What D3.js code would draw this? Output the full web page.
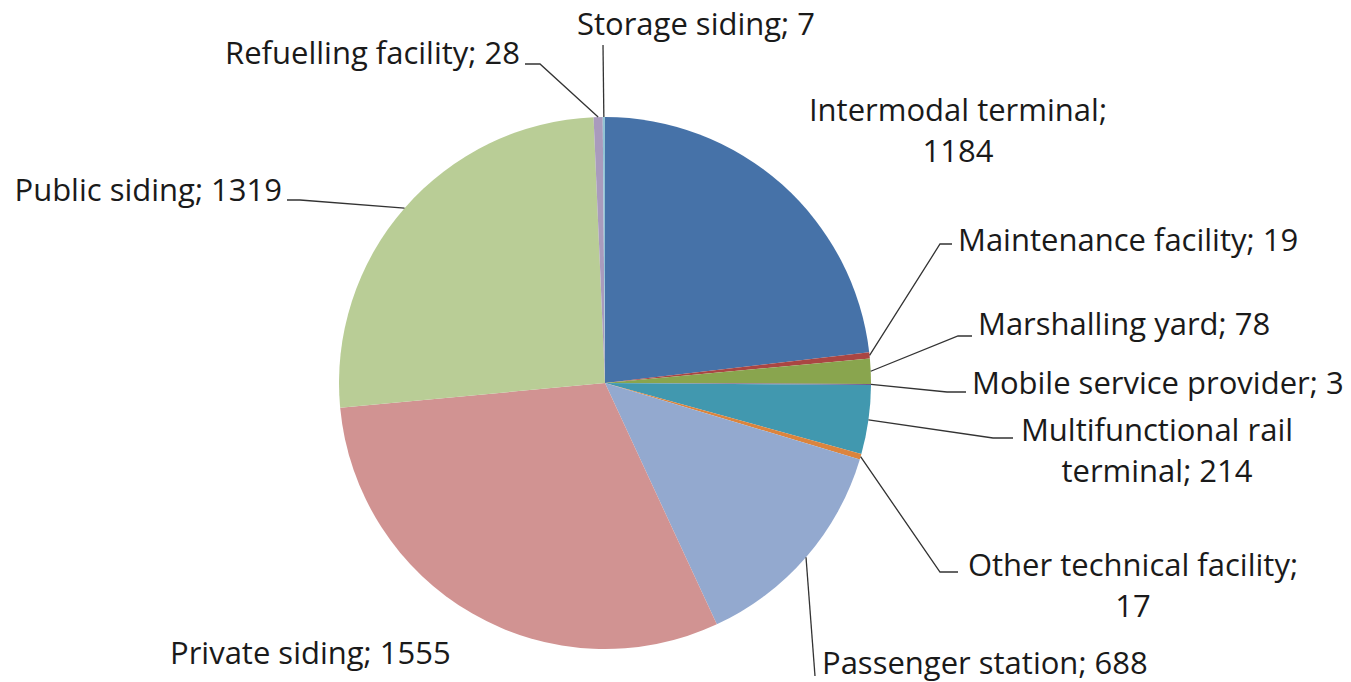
<!DOCTYPE html>
<html>
<head>
<meta charset="utf-8">
<script src="https://cdn.jsdelivr.net/npm/d3@7"></script>
<style>
  body { margin: 0; background: #fff; }
  text { font-family: 'Open Sans', sans-serif; font-size: 31px; fill: #1a1a1a; }
</style>
</head>
<body>
<svg width="1351" height="682"></svg>
<script>
const categories = [
    'Intermodal terminal', 'Maintenance facility', 'Marshalling yard',
    'Mobile service provider', 'Multifunctional rail terminal',
    'Other technical facility', 'Passenger station', 'Private siding',
    'Public siding', 'Refuelling facility', 'Storage siding'
]
const values = [1184, 19, 78, 3, 214, 17, 688, 1555, 1319, 28, 7]
const colors = ['#4672a8', '#aa4643', '#89a54e', '#71588f', '#4198af', '#db843d',
    '#93a9cf', '#d19392', '#b9cd96', '#a99bbd', '#92c3d4']

// label placement: x, y of first baseline, anchor, words on first line, knee of leader
const layout = [
    { x: 958, y: 121, anchor: 'middle', split: 2, knee: null },
    { x: 958, y: 251, anchor: 'start', split: 0, knee: [940, 244], end: 952 },
    { x: 978, y: 335, anchor: 'start', split: 0, knee: [958, 336], end: 972 },
    { x: 972, y: 394, anchor: 'start', split: 0, knee: [947, 392], end: 966 },
    { x: 1157, y: 441, anchor: 'middle', split: 2, knee: [993, 438], end: 1013 },
    { x: 1133, y: 576, anchor: 'middle', split: 3, knee: [940, 572], end: 958 },
    { x: 822, y: 674, anchor: 'start', split: 0, knee: [815, 676], end: 815 },
    { x: 170, y: 664, anchor: 'start', split: 0, knee: null },
    { x: 282, y: 201, anchor: 'end', split: 0, knee: [300, 200], end: 287 },
    { x: 520, y: 64, anchor: 'end', split: 0, knee: [540, 64], end: 525 },
    { x: 696, y: 35, anchor: 'middle', split: 0, knee: [603, 45], end: 603 }
]

const svg = d3.select('svg')
const cx = 605
const cy = 383
const radius = 266

const data = categories.map((c, i) => ({ name: c, value: values[i], i }))

const pie = d3.pie()
    .value(d => d.value)
    .sort(null)

const arc = d3.arc()
    .innerRadius(0)
    .outerRadius(radius)

const arcs = pie(data)

const g = svg.append('g')
    .attr('transform', `translate(${cx},${cy})`)

g.selectAll('path.slice')
    .data(arcs)
    .enter()
    .append('path')
    .attr('class', 'slice')
    .attr('d', arc)
    .attr('fill', d => colors[d.data.i])

// leader lines
arcs.forEach(d => {
    const l = layout[d.data.i]
    if (!l.knee) return
    const mid = (d.startAngle + d.endAngle) / 2
    const ex = cx + radius * Math.sin(mid)
    const ey = cy - radius * Math.cos(mid)
    svg.append('path')
        .attr('d', `M${ex},${ey}L${l.knee[0]},${l.knee[1]}L${l.end},${l.knee[1]}`)
        .attr('fill', 'none')
        .attr('stroke', '#333')
        .attr('stroke-width', 1.3)
})

// labels
arcs.forEach(d => {
    const l = layout[d.data.i]
    const full = `${d.data.name}; ${d.data.value}`
    const words = full.split(' ')
    const lines = l.split ? [words.slice(0, l.split).join(' '), words.slice(l.split).join(' ')] : [full]
    const t = svg.append('text')
        .attr('x', l.x)
        .attr('y', l.y)
        .attr('text-anchor', l.anchor)
    lines.forEach((s, k) => {
        t.append('tspan')
            .attr('x', l.x)
            .attr('dy', k === 0 ? 0 : 41)
            .text(s)
    })
})
</script>
</body>
</html>
